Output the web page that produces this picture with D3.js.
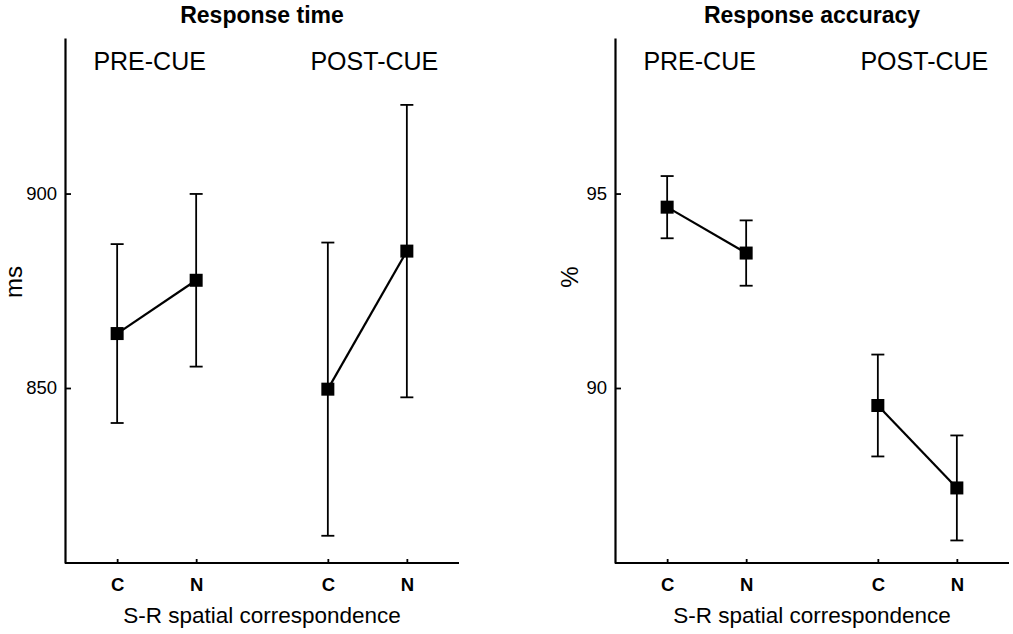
<!DOCTYPE html>
<html>
<head>
<meta charset="utf-8">
<script src="https://cdn.jsdelivr.net/npm/d3@7"></script>
<style>
  body { margin: 0; background: #fff; }
  text { font-family: "Liberation Sans", Arial, Helvetica, sans-serif; fill: #000; }
</style>
</head>
<body>
<script>
// ---------- data ----------
const cueLabels = ['PRE-CUE', 'POST-CUE'];
const corrLabels = ['C', 'N'];

// response time (ms), [cue][correspondence]
const rtMean = [[864.0, 877.7], [849.7, 885.2]];
const rtErr = [[23.0, 22.2], [37.7, 37.6]];
const rtTicks = [850, 900];

// response accuracy (%), [cue][correspondence]
const accMean = [[94.65, 93.47], [89.55, 87.43]];
const accErr = [[0.80, 0.84], [1.31, 1.35]];
const accTicks = [90, 95];

// ---------- layout ----------
const W = 1013, H = 634;
const plotTop = 38, plotBottom = 563, plotWidth = 394;
const groupShift = [-7, 7];

function translate(x, y) {
  return `translate(${x}, ${y})`;
}

const panels = [
  {left: 65, title: 'Response time', yLabel: 'ms', yLabelPos: [-43, 282],
   domain: [805, 940], ticks: rtTicks, mean: rtMean, err: rtErr},
  {left: 615, title: 'Response accuracy', yLabel: '%', yLabelPos: [-37, 277],
   domain: [85.5, 99], ticks: accTicks, mean: accMean, err: accErr}
];

const svg = d3.select('body').append('svg')
  .attr('width', W)
  .attr('height', H);

function drawPanel(p) {
  const g = svg.append('g').attr('transform', translate(p.left, 0));

  const y = d3.scaleLinear().domain(p.domain).range([plotBottom, plotTop]);
  const xGroup = d3.scaleBand().domain(cueLabels).range([0, plotWidth])
    .paddingInner(0.25).paddingOuter(0.06);
  const xCond = d3.scalePoint().domain(corrLabels).range([0, xGroup.bandwidth()]).padding(0.5);

  // y axis (ticks point inward)
  const yAxis = g.append('g')
    .call(d3.axisLeft(y).tickValues(p.ticks).tickSize(-6).tickSizeOuter(0).tickPadding(8));
  yAxis.select('.domain').attr('stroke-width', 2.2);
  yAxis.selectAll('.tick line').attr('stroke-width', 1.8);
  yAxis.selectAll('.tick text')
    .attr('font-size', 18.5)
    .attr('font-family', '"Liberation Sans", Arial, sans-serif');

  // x baseline
  g.append('line')
    .attr('x1', 0).attr('x2', plotWidth)
    .attr('y1', plotBottom).attr('y2', plotBottom)
    .attr('stroke', '#000').attr('stroke-width', 2.2);

  cueLabels.forEach((cue, ci) => {
    const gx = g.append('g').attr('transform', translate(xGroup(cue), 0));

    // x ticks for this cue group
    const xAxis = gx.append('g')
      .attr('transform', translate(0, plotBottom))
      .call(d3.axisBottom(xCond).tickSize(-4).tickSizeOuter(0).tickPadding(15));
    xAxis.select('.domain').remove();
    xAxis.selectAll('.tick line').attr('stroke-width', 1.8);
    xAxis.selectAll('.tick text')
      .attr('font-size', 18.5)
      .attr('font-weight', 'bold')
      .attr('font-family', '"Liberation Sans", Arial, sans-serif');

    // group label
    gx.append('text')
      .attr('x', xGroup.bandwidth() / 2 + groupShift[ci])
      .attr('y', 70)
      .attr('text-anchor', 'middle')
      .attr('font-size', 25)
      .text(cue);

    const pts = corrLabels.map((c, k) => ({
      x: xCond(c), m: p.mean[ci][k], e: p.err[ci][k]
    }));

    // connecting line
    gx.append('path')
      .attr('d', d3.line().x(d => d.x).y(d => y(d.m))(pts))
      .attr('fill', 'none')
      .attr('stroke', '#000')
      .attr('stroke-width', 2.2);

    // error bars
    const eb = gx.selectAll('.err').data(pts).enter().append('g').attr('class', 'err');
    eb.append('line')
      .attr('x1', d => d.x).attr('x2', d => d.x)
      .attr('y1', d => y(d.m - d.e)).attr('y2', d => y(d.m + d.e))
      .attr('stroke', '#000').attr('stroke-width', 1.8);
    [1, -1].forEach(sgn => {
      eb.append('line')
        .attr('x1', d => d.x - 6.5).attr('x2', d => d.x + 6.5)
        .attr('y1', d => y(d.m + sgn * d.e)).attr('y2', d => y(d.m + sgn * d.e))
        .attr('stroke', '#000').attr('stroke-width', 1.8);
    });

    // markers
    gx.selectAll('.marker').data(pts).enter().append('rect')
      .attr('class', 'marker')
      .attr('x', d => d.x - 6.5)
      .attr('y', d => y(d.m) - 6.5)
      .attr('width', 13)
      .attr('height', 13)
      .attr('fill', '#000');
  });

  // titles
  g.append('text')
    .attr('x', plotWidth / 2)
    .attr('y', 23)
    .attr('text-anchor', 'middle')
    .attr('font-size', 23)
    .attr('font-weight', 'bold')
    .text(p.title);

  g.append('text')
    .attr('x', plotWidth / 2)
    .attr('y', 623)
    .attr('text-anchor', 'middle')
    .attr('font-size', 22.5)
    .text('S-R spatial correspondence');

  g.append('text')
    .attr('transform', translate(p.yLabelPos[0], p.yLabelPos[1]) + ' rotate(-90)')
    .attr('text-anchor', 'middle')
    .attr('font-size', 24)
    .text(p.yLabel);
}

panels.forEach(drawPanel);
</script>
</body>
</html>
